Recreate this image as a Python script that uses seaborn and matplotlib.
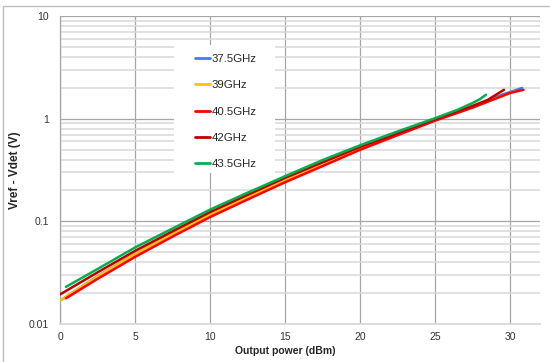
import matplotlib
matplotlib.use("Agg")
import matplotlib.pyplot as plt
from matplotlib.patches import Rectangle
from matplotlib.ticker import FixedLocator, NullFormatter, LogLocator
import numpy as np
import pandas as pd
import seaborn as sns

# Detector output (Vref - Vdet) versus output power, one curve per frequency
freqs = ["37.5GHz", "39GHz", "40.5GHz", "42GHz", "43.5GHz"]

p_375 = [0.1, 2.5, 5, 7.5, 10, 12.5, 15, 17.5, 20, 22.5, 25, 27.5, 29.5, 30.8]
v_375 = [0.0172, 0.0292, 0.0482, 0.076, 0.117, 0.173, 0.256, 0.362, 0.512, 0.70, 0.97, 1.31, 1.72, 1.99]

p_39 = [0.05, 2.5, 5, 7.5, 10, 12.5, 15, 17.5, 20, 22.5, 25, 27.5, 29.5, 30.3]
v_39 = [0.0171, 0.029, 0.048, 0.075, 0.116, 0.172, 0.255, 0.36, 0.51, 0.70, 0.97, 1.30, 1.66, 1.84]

p_405 = [0.4, 2.5, 5, 7.5, 10, 12.5, 15, 17.5, 20, 22.5, 25, 27.5, 30, 30.9]
v_405 = [0.0178, 0.0275, 0.045, 0.071, 0.110, 0.163, 0.24, 0.345, 0.497, 0.69, 0.955, 1.28, 1.78, 1.91]

p_42 = [0.0, 2.5, 5, 7.5, 10, 12.5, 15, 17.5, 20, 22.5, 25, 27.5, 28.5, 29.6]
v_42 = [0.0194, 0.0318, 0.0515, 0.080, 0.123, 0.181, 0.265, 0.375, 0.53, 0.72, 0.99, 1.33, 1.52, 1.91]

p_435 = [0.4, 2.5, 5, 7.5, 10, 12.5, 15, 17.5, 20, 22.5, 25, 26.5, 27.5, 28.0, 28.4]
v_435 = [0.023, 0.0343, 0.0556, 0.0851, 0.130, 0.190, 0.275, 0.395, 0.55, 0.75, 1.01, 1.22, 1.42, 1.55, 1.71]

colors = ["#3D7FF0", "#FFC000", "#FF0000", "#C00000", "#00B050"]

x_ticks = [0, 5, 10, 15, 20, 25, 30]
y_ticks = [0.01, 0.1, 1, 10]
y_tick_labels = ["0.01", "0.1", "1", "10"]

frames = []
for name, p, v in zip(freqs,
                      [p_375, p_39, p_405, p_42, p_435],
                      [v_375, v_39, v_405, v_42, v_435]):
    frames.append(pd.DataFrame({"power": p, "volt": v, "freq": name}))
df = pd.concat(frames, ignore_index=True)

sns.set_style("white")
plt.rcParams["font.family"] = ["Liberation Sans", "DejaVu Sans"]

W, H = 550, 362
fig = plt.figure(figsize=(W / 100, H / 100), dpi=100)
ax = fig.add_axes([60 / W, 1 - 324 / H, 480 / W, 308 / H])

# outer chart frame
fig.patches.append(Rectangle((3 / W, -0.1), 1.2, 1 - 6 / H + 0.1,
                             transform=fig.transFigure, fill=False,
                             edgecolor="#BFBFBF", linewidth=1.0, zorder=0))

sns.lineplot(data=df, x="power", y="volt", hue="freq", hue_order=freqs,
             palette=colors, linewidth=1.8, sort=False, estimator=None,
             ax=ax, zorder=3)

ax.set_yscale("log")
ax.set_xlim(0, 32)
ax.set_ylim(0.01, 10)

ax.xaxis.set_major_locator(FixedLocator(x_ticks))
ax.set_xticklabels([str(t) for t in x_ticks])
ax.yaxis.set_major_locator(FixedLocator(y_ticks))
ax.set_yticklabels(y_tick_labels)
ax.yaxis.set_minor_locator(LogLocator(base=10, subs=np.arange(2, 10)))
ax.yaxis.set_minor_formatter(NullFormatter())

ax.grid(True, which="major", axis="both", color="#A6A6A6", linewidth=0.9)
ax.grid(True, which="minor", axis="y", color="#D9D9D9", linewidth=1.1)
ax.set_axisbelow(True)

ax.tick_params(axis="both", which="both", length=0, labelsize=7.5,
               colors="#333333")
ax.tick_params(axis="y", pad=8)
ax.tick_params(axis="x", pad=6)

for s in ["top", "right"]:
    ax.spines[s].set_visible(False)
ax.spines["left"].set_color("#A6A6A6")
ax.spines["left"].set_linewidth(0.9)
ax.spines["bottom"].set_color("#D9D9D9")
ax.spines["bottom"].set_linewidth(1.3)

ax.set_xlabel("Output power (dBm)", fontsize=7.5, fontweight="bold")
ax.xaxis.set_label_coords((285 - 60) / 480, -(346 - 324) / 308)
ax.set_ylabel("Vref - Vdet (V)", fontsize=8.5, fontweight="bold")
ax.yaxis.set_label_coords(-(60 - 21) / 480, 0.5)

# white legend panel over the grid
ax.add_patch(Rectangle(((174 - 60) / 480, 1 - (173 - 16) / 308),
                       101 / 480, 128 / 308, transform=ax.transAxes,
                       facecolor="white", edgecolor="none", zorder=4))

leg = ax.legend(loc="upper left",
                bbox_to_anchor=((195 - 60) / 480, 1 - (54 - 16) / 308),
                frameon=False, fontsize=8.2, handlelength=1.35,
                handletextpad=0.1, labelspacing=1.43, borderpad=0,
                borderaxespad=0, title=None)
for line in leg.get_lines():
    line.set_linewidth(2.0)
leg.set_zorder(5)

fig.savefig("out.png", dpi=100)
